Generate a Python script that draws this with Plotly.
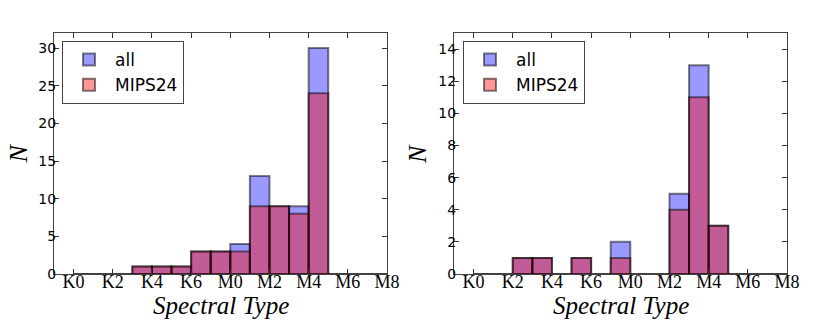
import plotly.graph_objects as go

# spectral type bins, left edges (K0=0 ... K7=7, M0=8 ...)
bin_left = list(range(16))
tick_vals = [0, 2, 4, 6, 8, 10, 12, 14, 16]
tick_text = ['K0', 'K2', 'K4', 'K6', 'M0', 'M2', 'M4', 'M6', 'M8']

# left panel counts
left_all = [0, 0, 0, 1, 1, 1, 3, 3, 4, 13, 9, 9, 30, 0, 0, 0]
left_mips = [0, 0, 0, 1, 1, 1, 3, 3, 3, 9, 9, 8, 24, 0, 0, 0]

# right panel counts
right_all = [0, 0, 1, 1, 0, 1, 0, 2, 0, 0, 5, 13, 3, 0, 0, 0]
right_mips = [0, 0, 1, 1, 0, 1, 0, 1, 0, 0, 4, 11, 3, 0, 0, 0]

BLUE = 'rgba(0,0,255,0.4)'
RED = 'rgba(255,0,0,0.4)'
EDGE = 'rgba(0,0,0,0.5)'

W, H = 830, 325
OFF = 8  # page body margin shifts the figure by 8px


def px_x(p):
    return (p - OFF) / W


def px_y(p):
    return 1 - (p - OFF) / H


def add_hist(fig, counts, color, name, xa, ya, legend):
    fig.add_trace(
        go.Bar(x=bin_left, y=counts, width=1, offset=0,
               name=name, marker=dict(color=color, line=dict(color=EDGE, width=2)),
               xaxis=xa, yaxis=ya, legend=legend))


fig = go.Figure()
add_hist(fig, left_all, BLUE, 'all', 'x', 'y', 'legend')
add_hist(fig, left_mips, RED, 'MIPS24', 'x', 'y', 'legend')
add_hist(fig, right_all, BLUE, 'all', 'x2', 'y2', 'legend2')
add_hist(fig, right_mips, RED, 'MIPS24', 'x2', 'y2', 'legend2')

xcommon = dict(range=[-1, 16], tickvals=tick_vals, ticktext=tick_text,
               ticks='inside', ticklen=5, tickcolor='#333', mirror='allticks',
               showline=True, linecolor='#444', linewidth=1.2, showgrid=False,
               zeroline=False, ticklabelstandoff=-9, automargin=False,
               tickfont=dict(family='Liberation Serif', size=18, color='black'))
ycommon = dict(ticks='inside', ticklen=5, tickcolor='#333', mirror='allticks',
               showline=True, linecolor='#444', linewidth=1.2, showgrid=False,
               zeroline=False, ticklabelstandoff=-6, automargin=False,
               tickfont=dict(family='DejaVu Sans', size=14, color='black'))

legcommon = dict(bgcolor='white', bordercolor='#444', borderwidth=1,
                 font=dict(family='DejaVu Sans', size=17, color='black'),
                 xanchor='left', yanchor='top', tracegroupgap=0, itemwidth=42)

ydom = [px_y(274), px_y(33)]
fig.update_layout(
    width=W, height=H,
    margin=dict(l=0, r=0, t=0, b=0, autoexpand=False),
    plot_bgcolor='white', paper_bgcolor='white',
    barmode='overlay',
    xaxis=dict(domain=[px_x(54), px_x(387)], anchor='y', **xcommon),
    yaxis=dict(domain=ydom, anchor='x', range=[0, 32], dtick=5, **ycommon),
    xaxis2=dict(domain=[px_x(454), px_x(787)], anchor='y2', **xcommon),
    yaxis2=dict(domain=ydom, anchor='x2', range=[0, 15], dtick=2, **ycommon),
    legend=dict(x=px_x(62), y=px_y(41), **legcommon),
    legend2=dict(x=px_x(463), y=px_y(41), **legcommon),
)

# axis titles
for xc in [220.5, 620.5]:
    fig.add_annotation(text='<i>Spectral Type</i>', showarrow=False,
                       xref='paper', yref='paper', x=px_x(xc), y=px_y(305),
                       xanchor='center', yanchor='middle',
                       font=dict(family='Liberation Serif', size=25, color='black'))
for xc in [17.5, 417]:
    fig.add_annotation(text='<i>N</i>', textangle=-90, showarrow=False,
                       xref='paper', yref='paper', x=px_x(xc), y=px_y(154),
                       xanchor='center', yanchor='middle',
                       font=dict(family='Liberation Serif', size=26, color='black'))

fig.write_html("out.html")
